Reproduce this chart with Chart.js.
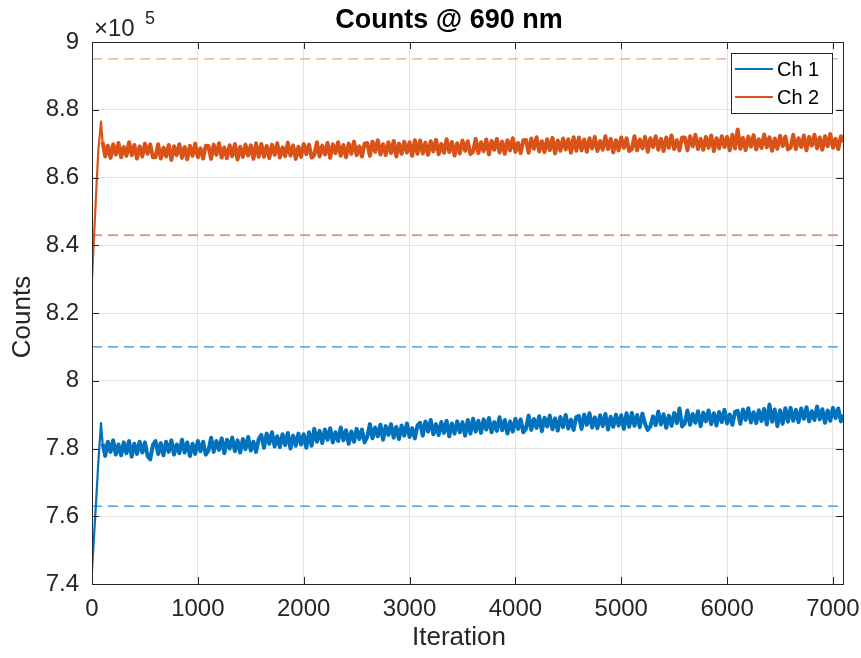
<!DOCTYPE html>
<html>
<head>
<meta charset="utf-8">
<title>Counts @ 690 nm</title>
<script src="https://cdn.jsdelivr.net/npm/chart.js@4.4.1/dist/chart.umd.min.js"></script>
<style>
    html, body { margin: 0; padding: 0; background: #ffffff; }
    #wrap { width: 861px; height: 658px; position: relative; }
</style>
</head>
<body>
<div id="wrap"><canvas id="countsChart"></canvas></div>
<script>
// sample iterations (same for both channels)
const iterations = [0, 20, 40, 60, 85,
    100, 125, 150, 175, 200, 225, 250, 275, 300, 325, 350, 375, 400, 425, 450, 475, 500, 525, 550, 575,
    600, 625, 650, 675, 700, 725, 750, 775, 800, 825, 850, 875, 900, 925, 950, 975, 1000, 1025, 1050, 1075,
    1100, 1125, 1150, 1175, 1200, 1225, 1250, 1275, 1300, 1325, 1350, 1375, 1400, 1425, 1450, 1475, 1500, 1525, 1550, 1575,
    1600, 1625, 1650, 1675, 1700, 1725, 1750, 1775, 1800, 1825, 1850, 1875, 1900, 1925, 1950, 1975, 2000, 2025, 2050, 2075,
    2100, 2125, 2150, 2175, 2200, 2225, 2250, 2275, 2300, 2325, 2350, 2375, 2400, 2425, 2450, 2475, 2500, 2525, 2550, 2575,
    2600, 2625, 2650, 2675, 2700, 2725, 2750, 2775, 2800, 2825, 2850, 2875, 2900, 2925, 2950, 2975, 3000, 3025, 3050, 3075,
    3100, 3125, 3150, 3175, 3200, 3225, 3250, 3275, 3300, 3325, 3350, 3375, 3400, 3425, 3450, 3475, 3500, 3525, 3550, 3575,
    3600, 3625, 3650, 3675, 3700, 3725, 3750, 3775, 3800, 3825, 3850, 3875, 3900, 3925, 3950, 3975, 4000, 4025, 4050, 4075,
    4100, 4125, 4150, 4175, 4200, 4225, 4250, 4275, 4300, 4325, 4350, 4375, 4400, 4425, 4450, 4475, 4500, 4525, 4550, 4575,
    4600, 4625, 4650, 4675, 4700, 4725, 4750, 4775, 4800, 4825, 4850, 4875, 4900, 4925, 4950, 4975, 5000, 5025, 5050, 5075,
    5100, 5125, 5150, 5175, 5200, 5225, 5250, 5275, 5300, 5325, 5350, 5375, 5400, 5425, 5450, 5475, 5500, 5525, 5550, 5575,
    5600, 5625, 5650, 5675, 5700, 5725, 5750, 5775, 5800, 5825, 5850, 5875, 5900, 5925, 5950, 5975, 6000, 6025, 6050, 6075,
    6100, 6125, 6150, 6175, 6200, 6225, 6250, 6275, 6300, 6325, 6350, 6375, 6400, 6425, 6450, 6475, 6500, 6525, 6550, 6575,
    6600, 6625, 6650, 6675, 6700, 6725, 6750, 6775, 6800, 6825, 6850, 6875, 6900, 6925, 6950, 6975, 7000, 7025, 7050, 7075,
    7095];

// Ch 1 counts, in units of 1e5
const ch1 = [7.440, 7.545, 7.650, 7.760, 7.875,
    7.815, 7.778, 7.820, 7.790, 7.824, 7.782, 7.812, 7.780, 7.818, 7.786, 7.822, 7.776, 7.814, 7.784, 7.820, 7.788, 7.818, 7.778, 7.768, 7.810,
    7.822, 7.784, 7.816, 7.780, 7.820, 7.790, 7.824, 7.782, 7.812, 7.786, 7.826, 7.788, 7.818, 7.778, 7.814, 7.784, 7.822, 7.792, 7.820, 7.782,
    7.794, 7.832, 7.790, 7.822, 7.796, 7.830, 7.786, 7.826, 7.800, 7.832, 7.792, 7.824, 7.788, 7.828, 7.798, 7.834, 7.794, 7.820, 7.790, 7.828,
    7.840, 7.802, 7.844, 7.814, 7.848, 7.806, 7.836, 7.804, 7.842, 7.810, 7.846, 7.800, 7.838, 7.808, 7.844, 7.812, 7.842, 7.802, 7.848, 7.808,
    7.858, 7.820, 7.852, 7.816, 7.856, 7.826, 7.860, 7.818, 7.848, 7.822, 7.862, 7.824, 7.854, 7.814, 7.850, 7.820, 7.858, 7.828, 7.856, 7.818,
    7.834, 7.872, 7.830, 7.862, 7.836, 7.870, 7.826, 7.866, 7.840, 7.872, 7.832, 7.864, 7.828, 7.868, 7.838, 7.874, 7.834, 7.860, 7.830, 7.868,
    7.876, 7.838, 7.880, 7.850, 7.884, 7.842, 7.872, 7.840, 7.878, 7.846, 7.882, 7.836, 7.874, 7.844, 7.880, 7.848, 7.878, 7.838, 7.884, 7.844,
    7.888, 7.850, 7.882, 7.846, 7.886, 7.856, 7.890, 7.848, 7.878, 7.852, 7.892, 7.854, 7.884, 7.844, 7.880, 7.850, 7.888, 7.858, 7.886, 7.848,
    7.859, 7.897, 7.855, 7.887, 7.861, 7.895, 7.851, 7.891, 7.865, 7.897, 7.857, 7.889, 7.853, 7.893, 7.863, 7.899, 7.859, 7.885, 7.855, 7.893,
    7.896, 7.858, 7.900, 7.870, 7.904, 7.862, 7.892, 7.860, 7.898, 7.866, 7.902, 7.856, 7.894, 7.864, 7.900, 7.868, 7.898, 7.858, 7.904, 7.864,
    7.905, 7.867, 7.899, 7.863, 7.903, 7.873, 7.855, 7.865, 7.895, 7.869, 7.909, 7.871, 7.901, 7.861, 7.897, 7.867, 7.905, 7.875, 7.918, 7.865,
    7.874, 7.912, 7.870, 7.902, 7.876, 7.910, 7.866, 7.906, 7.880, 7.912, 7.872, 7.904, 7.868, 7.908, 7.878, 7.914, 7.874, 7.900, 7.870, 7.908,
    7.911, 7.873, 7.915, 7.885, 7.919, 7.877, 7.907, 7.875, 7.913, 7.881, 7.917, 7.871, 7.930, 7.879, 7.915, 7.866, 7.913, 7.873, 7.919, 7.879,
    7.920, 7.882, 7.914, 7.878, 7.918, 7.888, 7.922, 7.880, 7.910, 7.884, 7.924, 7.886, 7.916, 7.876, 7.912, 7.882, 7.920, 7.890, 7.918, 7.880,
    7.900];

// Ch 2 counts, in units of 1e5
const ch2 = [8.300, 8.430, 8.560, 8.680, 8.765,
    8.705, 8.662, 8.694, 8.658, 8.698, 8.668, 8.702, 8.660, 8.690, 8.664, 8.704, 8.666, 8.696, 8.656, 8.692, 8.662, 8.700, 8.670, 8.698, 8.660,
    8.660, 8.698, 8.656, 8.688, 8.662, 8.696, 8.652, 8.692, 8.666, 8.698, 8.658, 8.690, 8.654, 8.694, 8.664, 8.700, 8.660, 8.686, 8.656, 8.694,
    8.693, 8.655, 8.697, 8.667, 8.701, 8.659, 8.689, 8.657, 8.695, 8.663, 8.699, 8.653, 8.691, 8.661, 8.697, 8.665, 8.695, 8.655, 8.701, 8.661,
    8.699, 8.661, 8.693, 8.657, 8.697, 8.667, 8.701, 8.659, 8.689, 8.663, 8.703, 8.665, 8.695, 8.655, 8.691, 8.661, 8.699, 8.669, 8.697, 8.659,
    8.666, 8.704, 8.662, 8.694, 8.668, 8.702, 8.658, 8.698, 8.672, 8.704, 8.664, 8.696, 8.660, 8.700, 8.670, 8.706, 8.666, 8.692, 8.662, 8.700,
    8.702, 8.664, 8.706, 8.676, 8.710, 8.668, 8.698, 8.666, 8.704, 8.672, 8.708, 8.662, 8.700, 8.670, 8.706, 8.674, 8.704, 8.664, 8.710, 8.670,
    8.709, 8.671, 8.703, 8.667, 8.707, 8.677, 8.711, 8.669, 8.699, 8.673, 8.713, 8.675, 8.705, 8.665, 8.701, 8.671, 8.709, 8.679, 8.707, 8.669,
    8.676, 8.714, 8.672, 8.704, 8.678, 8.712, 8.668, 8.708, 8.682, 8.714, 8.674, 8.706, 8.670, 8.710, 8.680, 8.716, 8.676, 8.702, 8.672, 8.710,
    8.711, 8.673, 8.715, 8.685, 8.719, 8.677, 8.707, 8.675, 8.713, 8.681, 8.717, 8.671, 8.709, 8.679, 8.715, 8.683, 8.713, 8.673, 8.719, 8.679,
    8.718, 8.680, 8.712, 8.676, 8.716, 8.686, 8.720, 8.678, 8.708, 8.682, 8.722, 8.684, 8.714, 8.674, 8.710, 8.680, 8.718, 8.688, 8.716, 8.678,
    8.684, 8.722, 8.680, 8.712, 8.686, 8.720, 8.676, 8.716, 8.690, 8.722, 8.682, 8.714, 8.678, 8.718, 8.688, 8.724, 8.684, 8.710, 8.680, 8.718,
    8.718, 8.680, 8.722, 8.692, 8.726, 8.684, 8.714, 8.682, 8.720, 8.688, 8.724, 8.678, 8.716, 8.686, 8.722, 8.690, 8.720, 8.680, 8.726, 8.686,
    8.742, 8.685, 8.717, 8.681, 8.721, 8.691, 8.725, 8.683, 8.713, 8.687, 8.727, 8.689, 8.719, 8.679, 8.715, 8.685, 8.723, 8.693, 8.721, 8.683,
    8.688, 8.726, 8.684, 8.716, 8.690, 8.724, 8.680, 8.720, 8.694, 8.726, 8.686, 8.718, 8.682, 8.722, 8.692, 8.728, 8.688, 8.714, 8.684, 8.722,
    8.704];

// horizontal reference levels (units of 1e5) and their colours
const limitLevels = [8.95, 8.43, 8.10, 7.63];
const limitColors = ['#eda27f', '#d6693f', '#2d8fd8', '#2d8fd8'];

const xTicks = [0, 1000, 2000, 3000, 4000, 5000, 6000, 7000];
const yTicks = [7.4, 7.6, 7.8, 8, 8.2, 8.4, 8.6, 8.8, 9];
const xMax = 7095;

const seriesNames = ['Ch 1', 'Ch 2'];
const seriesColors = ['#0072bd', '#d95319'];

const FONT = '"Liberation Sans", Arial, Helvetica, sans-serif';
const INK = '#262626';

function toPoints(values) {
    return values.map((v, i) => ({ x: iterations[i], y: v }));
}

const datasets = [];
limitLevels.forEach((level, i) => {
    datasets.push({
        label: 'limit' + i,
        data: [{ x: 0, y: level }, { x: xMax, y: level }],
        borderColor: limitColors[i],
        borderWidth: 1.3,
        borderDash: [10, 6],
        pointRadius: 0,
        order: 2
    });
});
[ch1, ch2].forEach((values, i) => {
    datasets.push({
        label: seriesNames[i],
        data: toPoints(values),
        borderColor: seriesColors[i],
        borderWidth: 4,
        borderJoinStyle: 'round',
        // warm-up ramp stays thin, the noisy plateau is drawn heavier
        segment: { borderWidth: c => (c.p1DataIndex <= 5 ? 2.2 : 4) },
        pointRadius: 0,
        tension: 0,
        order: 1
    });
});

// box, inward ticks, titles, exponent and legend (MATLAB look)
const axesDecor = {
    id: 'axesDecor',
    afterDraw(chart) {
        const ctx = chart.ctx;
        const area = chart.chartArea;
        const xs = chart.scales.x;
        const ys = chart.scales.y;
        const tick = 7;
        ctx.save();
        ctx.strokeStyle = INK;
        ctx.lineWidth = 1;
        ctx.beginPath();
        xTicks.forEach(t => {
            const px = Math.round(xs.getPixelForValue(t)) + 0.5;
            ctx.moveTo(px, area.bottom); ctx.lineTo(px, area.bottom - tick);
            ctx.moveTo(px, area.top); ctx.lineTo(px, area.top + tick);
        });
        yTicks.forEach(t => {
            const py = Math.round(ys.getPixelForValue(t)) + 0.5;
            ctx.moveTo(area.left, py); ctx.lineTo(area.left + tick, py);
            ctx.moveTo(area.right, py); ctx.lineTo(area.right - tick, py);
        });
        ctx.stroke();
        ctx.strokeRect(Math.round(area.left) + 0.5, Math.round(area.top) + 0.5,
            Math.round(area.right - area.left), Math.round(area.bottom - area.top));

        // title
        ctx.fillStyle = '#000000';
        ctx.font = 'bold 27px ' + FONT;
        ctx.textAlign = 'center';
        ctx.textBaseline = 'middle';
        ctx.fillText('Counts @ 690 nm', 449, 21);

        // axis titles
        ctx.fillStyle = INK;
        ctx.font = '26px ' + FONT;
        ctx.fillText('Iteration', 459, 638);
        ctx.save();
        ctx.translate(23, 317);
        ctx.rotate(-Math.PI / 2);
        ctx.fillText('Counts', 0, 0);
        ctx.restore();

        // exponent of the y axis
        ctx.textAlign = 'left';
        ctx.textBaseline = 'alphabetic';
        ctx.font = '24px ' + FONT;
        ctx.fillText('\u00d710', 94, 36);
        ctx.font = '18px ' + FONT;
        ctx.fillText('5', 145, 24);

        // legend
        const lx = 731.5, ly = 53.5, lw = 101, lh = 60;
        ctx.fillStyle = '#ffffff';
        ctx.fillRect(lx, ly, lw, lh);
        ctx.strokeStyle = INK;
        ctx.strokeRect(lx, ly, lw, lh);
        ctx.font = '20px ' + FONT;
        ctx.textBaseline = 'middle';
        seriesNames.forEach((name, i) => {
            const y = 69 + i * 28;
            ctx.strokeStyle = seriesColors[i];
            ctx.lineWidth = 2;
            ctx.beginPath();
            ctx.moveTo(735, y); ctx.lineTo(773, y);
            ctx.stroke();
            ctx.fillStyle = '#000000';
            ctx.fillText(name, 777, y + 1);
        });
        ctx.restore();
    }
};

const ctx = document.getElementById('countsChart').getContext('2d');
new Chart(ctx, {
    type: 'line',
    data: { datasets: datasets },
    options: {
        responsive: true,
        maintainAspectRatio: false,
        animation: false,
        layout: { padding: { left: 0, right: 18, top: 42, bottom: 0 } },
        plugins: {
            legend: { display: false },
            tooltip: { enabled: false },
            title: { display: false }
        },
        scales: {
            x: {
                type: 'linear',
                min: 0,
                max: xMax,
                afterBuildTicks: scale => { scale.ticks = xTicks.map(v => ({ value: v })); },
                afterFit: scale => {
                    scale.height = 74;
                    scale.paddingLeft = 0;
                    scale.paddingRight = 0;
                },
                grid: { color: '#e3e3e3', drawTicks: false },
                border: { display: false },
                ticks: {
                    color: INK,
                    padding: 11,
                    maxRotation: 0,
                    font: { family: FONT, size: 24 },
                    callback: v => String(v)
                }
            },
            y: {
                min: 7.4,
                max: 9,
                afterBuildTicks: scale => { scale.ticks = yTicks.map(v => ({ value: v })); },
                afterFit: scale => {
                    scale.width = 92;
                    scale.paddingTop = 0;
                    scale.paddingBottom = 0;
                },
                grid: { color: '#e3e3e3', drawTicks: false },
                border: { display: false },
                ticks: {
                    color: INK,
                    padding: 13,
                    font: { family: FONT, size: 24 },
                    callback: v => String(Math.round(v * 10) / 10)
                }
            }
        }
    },
    plugins: [axesDecor]
});
</script>
</body>
</html>
